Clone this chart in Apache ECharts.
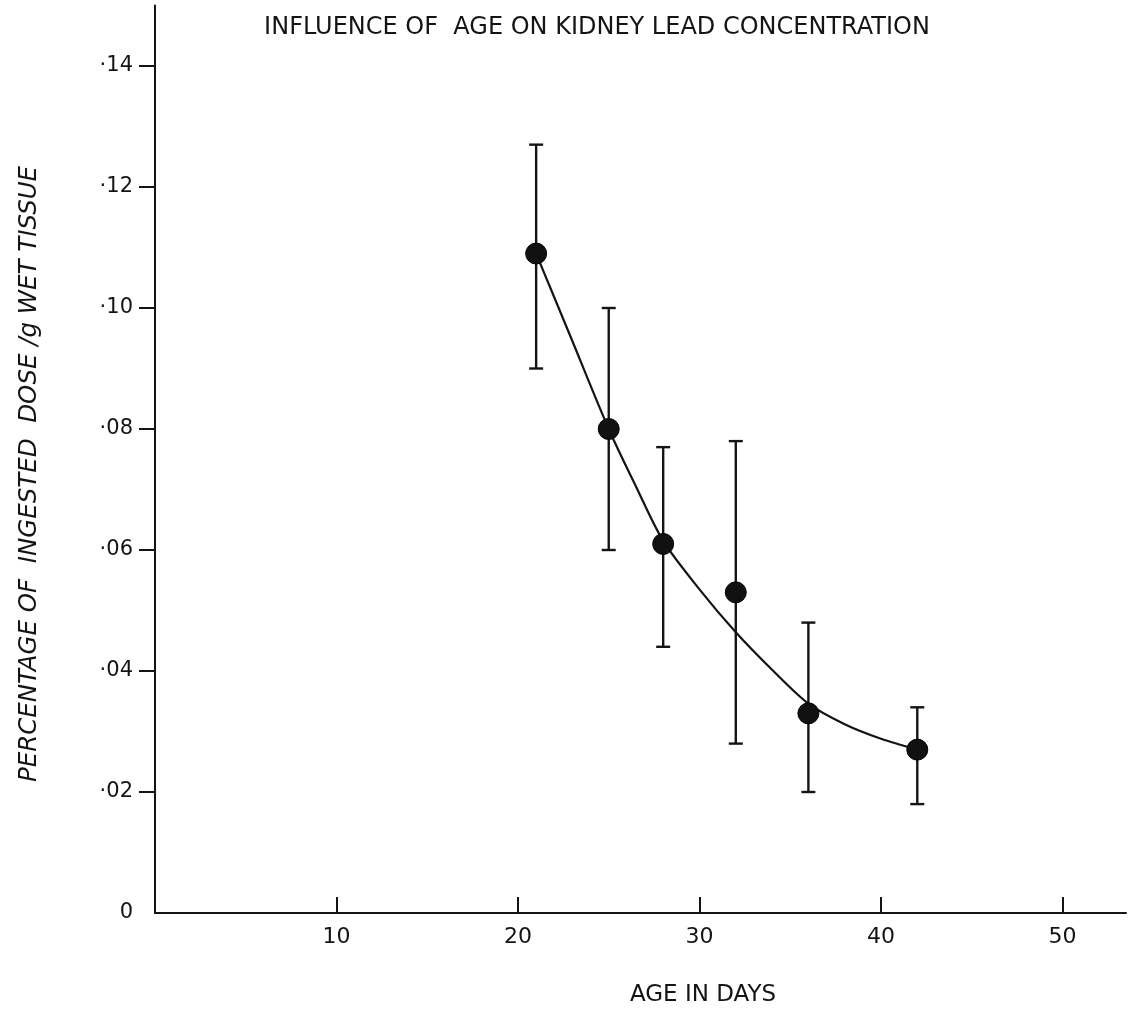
<!DOCTYPE html>
<html>
<head>
<meta charset="utf-8">
<title>Influence of age on kidney lead concentration</title>
<script src="https://cdn.jsdelivr.net/npm/echarts@6/dist/echarts.min.js"></script>
<style>
  html, body { margin: 0; padding: 0; background: #ffffff; }
  #chart { width: 1132px; height: 1012px; }
</style>
</head>
<body>
<div id="chart"></div>
<script>
// Mean kidney lead (% of ingested dose per g wet tissue) by age, with range bars
const ages = [21, 25, 28, 32, 36, 42];
const meanConc = [0.109, 0.080, 0.061, 0.053, 0.033, 0.027];
const upperConc = [0.127, 0.100, 0.077, 0.078, 0.048, 0.034];
const lowerConc = [0.090, 0.060, 0.044, 0.028, 0.020, 0.018];

// Hand-drawn trend curve through the means
const curveAges = [21, 23, 25, 26.5, 28, 30, 32, 34, 36, 38, 40, 42];
const curveConc = [0.109, 0.0945, 0.080, 0.0705, 0.0615, 0.0535, 0.0464, 0.0402, 0.0346, 0.0312, 0.0288, 0.027];

// Axis ticks and their printed labels
const xTickValues = [10, 20, 30, 40, 50];
const yTickValues = [0, 0.02, 0.04, 0.06, 0.08, 0.10, 0.12, 0.14];
const yTickLabels = ['0', '·02', '·04', '·06', '·08', '·10', '·12', '·14'];

const INK = '#141414';
const FONT = '"DejaVu Sans", "Noto Sans", sans-serif';

const meanPoints = ages.map((a, i) => [a, meanConc[i]]);
const rangeData = ages.map((a, i) => [a, lowerConc[i], upperConc[i]]);
const curvePoints = curveAges.map((a, i) => [a, curveConc[i]]);

const chart = echarts.init(document.getElementById('chart'), null, { renderer: 'canvas' });

chart.setOption({
  backgroundColor: '#ffffff',
  animation: false,
  grid: { left: 155, right: 6, top: 5.5, bottom: 99, containLabel: false },
  xAxis: {
    type: 'value',
    min: 0,
    max: 53.5,
    axisLine: { show: true, lineStyle: { color: INK, width: 2 } },
    axisTick: { show: true, inside: true, length: 16, customValues: xTickValues, lineStyle: { color: INK, width: 2 } },
    axisLabel: { customValues: xTickValues, margin: 13, color: INK, fontSize: 22, fontFamily: FONT },
    splitLine: { show: false }
  },
  yAxis: {
    type: 'value',
    min: 0,
    max: 0.15,
    axisLine: { show: true, lineStyle: { color: INK, width: 2 } },
    axisTick: { show: true, inside: false, length: 16, customValues: yTickValues.slice(1), lineStyle: { color: INK, width: 2 } },
    axisLabel: {
      customValues: yTickValues,
      margin: 22,
      color: INK,
      fontSize: 21,
      fontFamily: FONT,
      formatter: function (v) {
        const idx = yTickValues.findIndex(t => Math.abs(t - v) < 1e-9);
        return idx >= 0 ? yTickLabels[idx] : '';
      }
    },
    splitLine: { show: false }
  },
  graphic: [
    {
      type: 'text', x: 597, y: 28,
      style: { text: 'INFLUENCE OF  AGE ON KIDNEY LEAD CONCENTRATION', fill: INK, font: '24px ' + FONT, align: 'center', verticalAlign: 'middle' }
    },
    {
      type: 'text', x: 703, y: 995,
      style: { text: 'AGE IN DAYS', fill: INK, font: '23px ' + FONT, align: 'center', verticalAlign: 'middle' }
    },
    {
      type: 'text', x: 30, y: 474, rotation: Math.PI / 2,
      style: { text: 'PERCENTAGE OF  INGESTED  DOSE /g WET TISSUE', fill: INK, font: 'italic 24.5px ' + FONT, align: 'center', verticalAlign: 'middle' }
    }
  ],
  series: [
    {
      type: 'custom',
      name: 'range',
      data: rangeData,
      z: 2,
      renderItem: function (params, api) {
        const x = api.value(0);
        const lo = api.coord([x, api.value(1)]);
        const hi = api.coord([x, api.value(2)]);
        const half = 7;
        const style = { stroke: INK, lineWidth: 2.4 };
        return {
          type: 'group',
          children: [
            { type: 'line', shape: { x1: hi[0], y1: hi[1], x2: lo[0], y2: lo[1] }, style: style },
            { type: 'line', shape: { x1: hi[0] - half, y1: hi[1], x2: hi[0] + half, y2: hi[1] }, style: style },
            { type: 'line', shape: { x1: lo[0] - half, y1: lo[1], x2: lo[0] + half, y2: lo[1] }, style: style }
          ]
        };
      }
    },
    {
      type: 'line',
      name: 'trend',
      data: curvePoints,
      smooth: 0.3,
      showSymbol: false,
      z: 3,
      lineStyle: { color: INK, width: 2.2 }
    },
    {
      type: 'scatter',
      name: 'mean',
      data: meanPoints,
      symbol: 'circle',
      symbolSize: 21,
      z: 4,
      itemStyle: { color: '#111111', opacity: 1, borderColor: '#000000', borderWidth: 1 }
    }
  ]
});
</script>
</body>
</html>
